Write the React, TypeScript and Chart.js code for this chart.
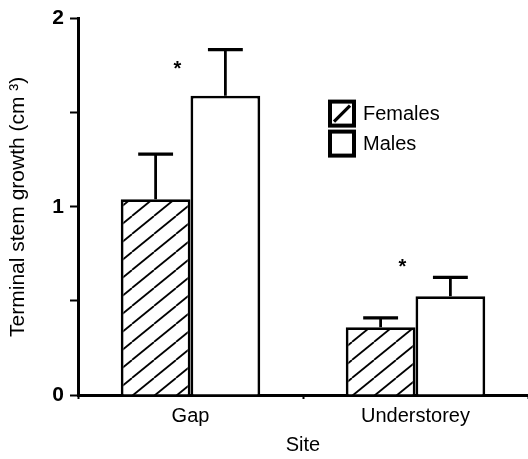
import React, { useEffect, useRef } from "react";
import { Chart, registerables } from "chart.js";

Chart.register(...registerables);

const categories = ["Gap", "Understorey"];
const seriesLabels = ["Females", "Males"];
const femalesMean = [1.04, 0.36];
const femalesUpper = [1.28, 0.41];
const malesMean = [1.59, 0.525];
const malesUpper = [1.835, 0.625];
const starHeights = [1.75, 0.7];
const yAxisTitle = "Terminal stem growth (cm ³)";
const xAxisTitle = "Site";

const FONT = "'Liberation Sans', Arial, Helvetica, sans-serif";

function makeHatch(): CanvasPattern | string {
  const w = 22;
  const h = 18;
  const c = document.createElement("canvas");
  c.width = w;
  c.height = h;
  const g = c.getContext("2d");
  if (!g) return "#fff";
  g.fillStyle = "#fff";
  g.fillRect(0, 0, w, h);
  g.strokeStyle = "#000";
  g.lineWidth = 1.8;
  for (const dx of [-w, 0, w]) {
    g.beginPath();
    g.moveTo(dx, h);
    g.lineTo(dx + w, 0);
    g.stroke();
  }
  const p = g.createPattern(c, "repeat");
  return p || "#fff";
}

const errorBarPlugin = {
  id: "errorBars",
  afterDatasetsDraw(chart: any) {
    const ctx = chart.ctx;
    const yScale = chart.scales.y;
    const uppers = [femalesUpper, malesUpper];
    ctx.save();
    ctx.strokeStyle = "#000";
    chart.data.datasets.forEach((_ds: any, di: number) => {
      const meta = chart.getDatasetMeta(di);
      meta.data.forEach((bar: any, i: number) => {
        const yTop = bar.y;
        const yErr = yScale.getPixelForValue(uppers[di][i]);
        const capHalf = bar.width * 0.25;
        ctx.lineWidth = 2.8;
        ctx.beginPath();
        ctx.moveTo(bar.x, yTop);
        ctx.lineTo(bar.x, yErr);
        ctx.stroke();
        ctx.lineWidth = 3.4;
        ctx.beginPath();
        ctx.moveTo(bar.x - capHalf, yErr);
        ctx.lineTo(bar.x + capHalf, yErr);
        ctx.stroke();
      });
    });
    // significance stars
    const xScale = chart.scales.x;
    ctx.fillStyle = "#000";
    ctx.font = `bold 20px ${FONT}`;
    ctx.textAlign = "center";
    ctx.textBaseline = "middle";
    starHeights.forEach((v, i) => {
      const x = xScale.getPixelForValue(i) - 13;
      const y = yScale.getPixelForValue(v);
      ctx.fillText("*", x, y + 4);
    });
    ctx.restore();
  },
  afterDraw(chart: any) {
    const ctx = chart.ctx;
    const area = chart.chartArea;
    const left = area.left + 252;
    const top = area.top + 83;
    const box = 24;
    const gap = 30;
    ctx.save();
    chart.data.datasets.forEach((ds: any, di: number) => {
      const y = top + di * gap;
      ctx.fillStyle = "#fff";
      ctx.fillRect(left, y, box, box);
      ctx.strokeStyle = "#000";
      ctx.lineWidth = 4;
      ctx.strokeRect(left, y, box, box);
      if (di === 0) {
        ctx.lineWidth = 3.2;
        ctx.beginPath();
        ctx.moveTo(left + 4, y + box - 4);
        ctx.lineTo(left + box - 4, y + 4);
        ctx.stroke();
      }
      ctx.fillStyle = "#000";
      ctx.font = `20px ${FONT}`;
      ctx.textAlign = "left";
      ctx.textBaseline = "middle";
      ctx.fillText(ds.label, left + box + 9, y + box / 2 + 1);
    });
    ctx.restore();
  },
};

export default function App() {
  const ref = useRef<HTMLCanvasElement | null>(null);

  useEffect(() => {
    if (!ref.current) return;
    const hatch = makeHatch();
    const chart = new Chart(ref.current, {
      type: "bar",
      data: {
        labels: categories,
        datasets: [
          {
            label: seriesLabels[0],
            data: femalesMean,
            backgroundColor: hatch as any,
            borderColor: "#000",
            borderWidth: 2.8,
            categoryPercentage: 0.62,
            barPercentage: 1,
          },
          {
            label: seriesLabels[1],
            data: malesMean,
            backgroundColor: "#fff",
            borderColor: "#000",
            borderWidth: 2.8,
            categoryPercentage: 0.62,
            barPercentage: 1,
          },
        ],
      },
      options: {
        responsive: false,
        animation: false,
        layout: { padding: { top: 17, right: 0, left: 0, bottom: 0 } },
        plugins: {
          legend: { display: false },
          tooltip: { enabled: false },
        },
        scales: {
          x: {
            grid: {
              drawOnChartArea: false,
              tickLength: 4,
              tickColor: "#000",
              tickWidth: 2,
            },
            border: { color: "#000", width: 3 },
            ticks: {
              color: "#000",
              font: { family: FONT, size: 20 },
              padding: 5,
            },
            title: {
              display: true,
              text: xAxisTitle,
              color: "#000",
              font: { family: FONT, size: 20 },
              padding: { top: 4, bottom: 2 },
            },
            afterFit: (scale: any) => {
              scale.height = 64;
            },
          },
          y: {
            min: 0,
            max: 2,
            grid: {
              drawOnChartArea: false,
              tickLength: 8,
              tickColor: "#000",
              tickWidth: 2,
            },
            border: { color: "#000", width: 3 },
            ticks: {
              stepSize: 0.5,
              color: "#000",
              font: { family: FONT, size: 21, weight: "bold" },
              padding: 6,
              callback: (v: any) => (Number.isInteger(v) ? String(v) : ""),
            },
            title: {
              display: true,
              text: yAxisTitle,
              color: "#000",
              font: { family: FONT, size: 21 },
              padding: { top: 6, bottom: 4 },
            },
            afterFit: (scale: any) => {
              scale.width = 78;
            },
          },
        },
      },
      plugins: [errorBarPlugin],
    });
    return () => chart.destroy();
  }, []);

  return (
    <div style={{ position: "fixed", left: 0, top: 0, width: 528, height: 459, background: "#fff" }}>
      <canvas ref={ref} width={528} height={459} style={{ display: "block" }} />
    </div>
  );
}
